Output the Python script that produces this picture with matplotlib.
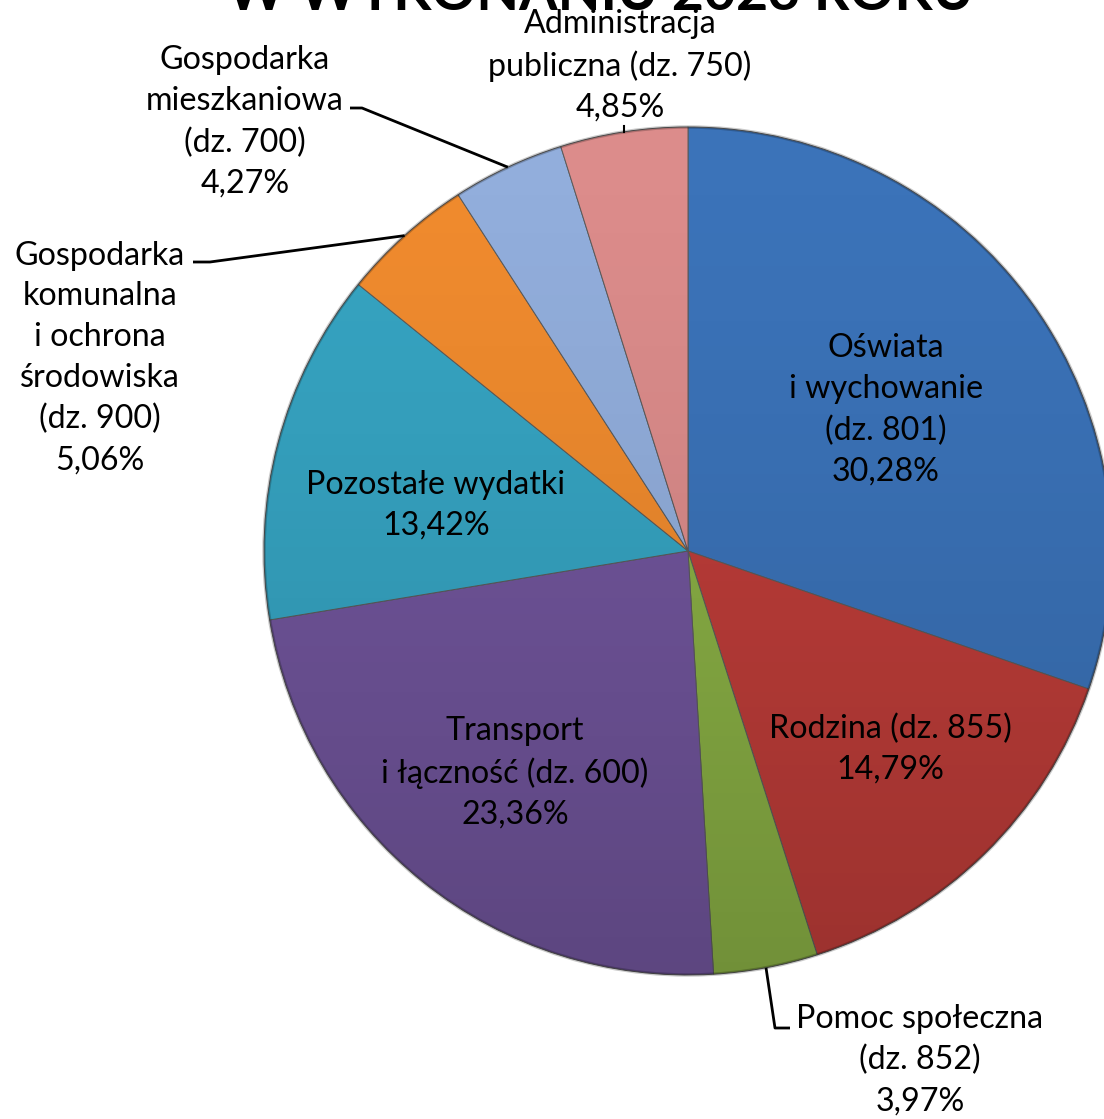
import numpy as np
import matplotlib.pyplot as plt
from matplotlib.patches import Circle

plt.rcParams['font.family'] = ['Lato', 'DejaVu Sans']

# Dane: struktura wydatków (%)
labels = [
    'Oświata\ni wychowanie\n(dz. 801)',
    'Rodzina (dz. 855)',
    'Pomoc społeczna\n(dz. 852)',
    'Transport\ni łączność (dz. 600)',
    'Pozostałe wydatki',
    'Gospodarka\nkomunalna\ni ochrona\nśrodowiska\n(dz. 900)',
    'Gospodarka\nmieszkaniowa\n(dz. 700)',
    'Administracja\npubliczna (dz. 750)',
]
values = [30.28, 14.79, 3.97, 23.36, 13.42, 5.06, 4.27, 4.85]
colors = ['#3b73b9', '#be3d39', '#8ab045', '#71559c', '#36a4c2',
          '#f08b2e', '#92aedc', '#dc8c8b']

W, H = 1104, 1119
fig = plt.figure(figsize=(W / 100, H / 100), dpi=100)
ax = fig.add_axes([0, 0, 1, 1])

cx, cy, R = 688, 551, 424

# y odwrócone -> kąty rosnące w danych idą zgodnie z ruchem wskazówek zegara
wedges, _ = ax.pie(values, colors=colors, startangle=-90, counterclock=True,
                   center=(cx, cy), radius=R, frame=True,
                   wedgeprops=dict(edgecolor='#5a5a5a', linewidth=0.7))

# lekki cień / gradient na całym torcie
grad = np.linspace(0, 1, 256)[:, None] * np.ones((1, 256))
rgba = np.zeros((256, 256, 4))
rgba[..., 3] = 0.18 * grad ** 1.5
img = ax.imshow(rgba, extent=(cx - R, cx + R, cy + R, cy - R), origin='upper',
                zorder=3, interpolation='bilinear')
img.set_clip_path(Circle((cx, cy), R, transform=ax.transData))
ax.add_patch(Circle((cx, cy), R, fill=False, edgecolor='#00000035',
                    linewidth=2.5, zorder=4))

ax.set_xlim(0, W)
ax.set_ylim(H, 0)
ax.set_aspect('equal')
ax.axis('off')

fs = 23.2
ls = 1.45
def label(i, x, y, **kw):
    txt = labels[i] + '\n' + f'{values[i]:.2f}'.replace('.', ',') + '%'
    ax.text(x, y, txt, ha='center', va='center', fontsize=fs,
            linespacing=ls, zorder=6, **kw)

label(0, 886, 410)
label(1, 890, 749)
label(3, 515, 773)
label(4, 436, 505)
label(5, 100, 358)
label(6, 245, 122)
label(7, 620, 66)

# Pomoc społeczna
label(2, 920, 1060)

def edge_point(i, r=R):
    w = wedges[i]
    mid = np.deg2rad((w.theta1 + w.theta2) / 2)
    return cx + r * np.cos(mid), cy + r * np.sin(mid)

def leader(i, pts):
    x0, y0 = edge_point(i)
    xs = [x0] + [p[0] for p in pts]
    ys = [y0] + [p[1] for p in pts]
    ax.plot(xs, ys, color='black', linewidth=2, zorder=5,
            solid_capstyle='butt')

leader(6, [(362, 108), (350, 108)])
leader(5, [(210, 262), (193, 262)])
leader(2, [(775, 1028), (790, 1028)])
x0, y0 = edge_point(7)
ax.plot([x0, x0], [y0, y0 - 6], color='black', linewidth=1.5, zorder=5)

# tytuł ucięty u góry
ax.text(600, 10, 'W WYKONANIU 2023 ROKU', ha='center', va='baseline',
        fontsize=40, fontweight='bold', zorder=6)

fig.savefig('out.png', dpi=100)
